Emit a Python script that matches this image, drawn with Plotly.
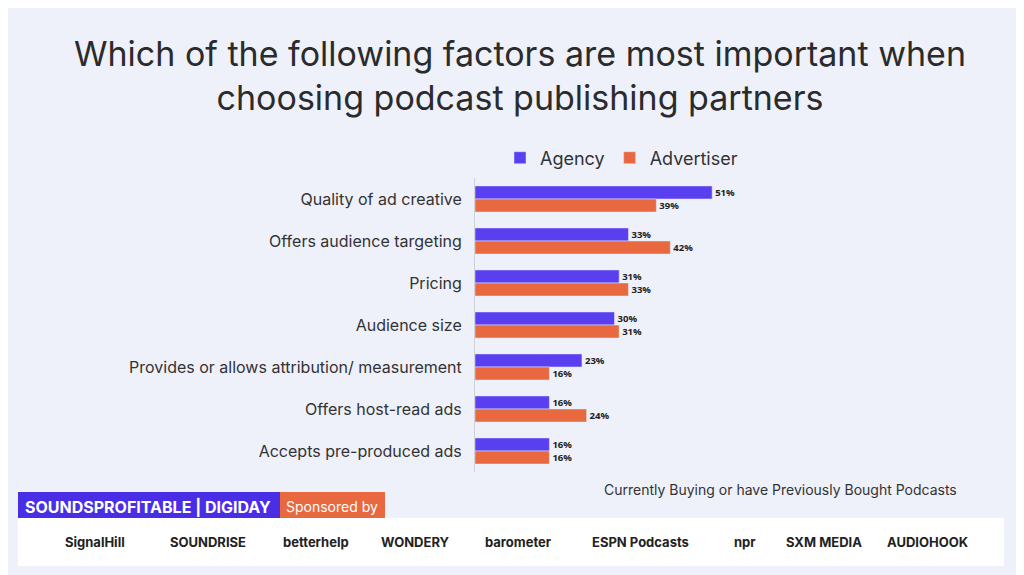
import plotly.graph_objects as go

factors = ["Quality of ad creative", "Offers audience targeting", "Pricing", "Audience size",
           "Provides or allows attribution/ measurement", "Offers host-read ads", "Accepts pre-produced ads"]
agency = [51, 33, 31, 30, 23, 16, 16]
advertiser = [39, 42, 33, 31, 16, 24, 16]
logos = ["SignalHill", "SOUNDRISE", "betterhelp", "WONDERY", "barometer", "ESPN Podcasts", "npr", "SXM MEDIA", "AUDIOHOOK"]
logo_x = [95, 208, 316, 415, 518, 640, 745, 824, 928]

OFF = 8  # page offset seen in the render
L, R, T, B = 467, 92, 170, 111
W, H = 1024 - L - R, 575 - T - B


def px(x):
    return (x - OFF - L) / W


def py(y):
    return (575 - B - (y - OFF)) / H


fig = go.Figure()
fig.add_bar(y=factors, x=agency, name="Agency", orientation="h", marker_color="#5a3ff0",
            text=[f"<b>{v}%</b>" for v in agency], textposition="outside",
            textfont=dict(size=11, color="#222", family="Open Sans"), cliponaxis=False)
fig.add_bar(y=factors, x=advertiser, name="Advertiser", orientation="h", marker_color="#e8693f",
            text=[f"<b>{v}%</b>" for v in advertiser], textposition="outside",
            textfont=dict(size=11, color="#222", family="Open Sans"), cliponaxis=False)

fig.update_layout(
    width=1024, height=575, paper_bgcolor="#eef0fa", plot_bgcolor="#eef0fa",
    barmode="group", bargap=0.38, bargroupgap=0.0,
    margin=dict(l=L, r=R, t=T, b=B),
    font=dict(family="Inter, Open Sans", color="#333"),
    title=dict(text="Which of the following factors are most important when<br>choosing podcast publishing partners",
               x=0.5, xanchor="center", y=0.9, yanchor="middle", font=dict(size=34, color="#2b2b2b")),
    legend=dict(orientation="h", x=px(500), y=py(158), xanchor="left", yanchor="middle",
                font=dict(size=18, color="#333"), traceorder="normal"),
)
fig.update_xaxes(range=[0, 100], visible=False)
fig.update_yaxes(autorange="reversed", tickfont=dict(size=16, color="#333"), ticks="", ticksuffix="  ",
                 showline=True, linecolor="#d0d0d8", linewidth=1)

fig.add_annotation(text="Currently Buying or have Previously Bought Podcasts", xref="paper", yref="paper",
                   x=px(959), y=py(489), xanchor="right", yanchor="middle", showarrow=False,
                   font=dict(size=14, color="#333"))
# sponsor banner
fig.add_shape(type="rect", xref="paper", yref="paper", x0=px(18), x1=px(385), y0=py(492), y1=py(522),
              fillcolor="#e8693f", line_width=0, layer="below")
fig.add_shape(type="rect", xref="paper", yref="paper", x0=px(18), x1=px(280), y0=py(492), y1=py(522),
              fillcolor="#4a2ee6", line_width=0)
fig.add_annotation(text="<b>SOUNDSPROFITABLE | DIGIDAY</b>", xref="paper", yref="paper", x=px(148), y=py(507),
                   xanchor="center", yanchor="middle", showarrow=False, font=dict(size=16, color="white"))
fig.add_annotation(text="Sponsored by", xref="paper", yref="paper", x=px(332), y=py(506),
                   xanchor="center", yanchor="middle", showarrow=False, font=dict(size=14, color="white"))
fig.add_shape(type="rect", xref="paper", yref="paper", x0=px(18), x1=px(1004), y0=py(518), y1=py(566),
              fillcolor="white", line_width=0)
for x, name in zip(logo_x, logos):
    fig.add_annotation(text=f"<b>{name}</b>", xref="paper", yref="paper", x=px(x), y=py(542),
                       xanchor="center", yanchor="middle", showarrow=False, font=dict(size=13, color="#222"))

fig.write_html("out.html")
